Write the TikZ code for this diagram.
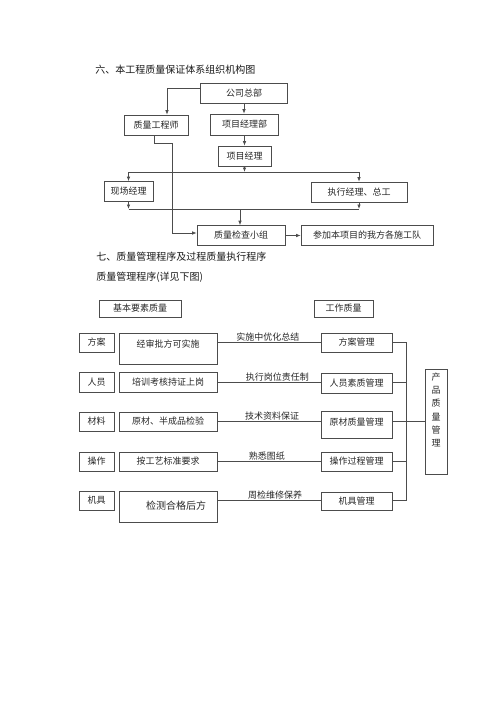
\documentclass[tikz,border=0pt]{standalone}
\usepackage{fontspec}
\setmainfont{Noto Sans CJK SC}
\usetikzlibrary{arrows.meta}

\begin{document}
\begin{tikzpicture}[x=1pt, y=-1pt, line width=0.7pt, black!70,
  >={Latex[length=4.5pt,width=3.5pt]},
  box/.style={draw, inner sep=0pt, text=black!85, font=\fontsize{9}{11}\selectfont},
  lbl/.style={above, inner sep=0.6pt, text=black!85, font=\fontsize{9}{11}\selectfont},
  head/.style={anchor=west, inner sep=0pt, text=black!90, font=\fontsize{10}{12}\selectfont}]
  \useasboundingbox (0,0) rectangle (500,707);

  \node[head] (title1) at (95,70) {六、本工程质量保证体系组织机构图};
  \node[box, minimum width=87pt, minimum height=20pt] (hq) at (244,93) {公司总部};
  \node[box, minimum width=64pt, minimum height=20pt] (qe) at (156,125) {质量工程师};
  \node[box, minimum width=68pt, minimum height=21pt] (pmd) at (244.5,124.5) {项目经理部};
  \node[box, minimum width=53pt, minimum height=20pt] (pm) at (244.5,156) {项目经理};
  \node[box, minimum width=49pt, minimum height=20pt] (site) at (128.5,191.5) {现场经理};
  \node[box, minimum width=96pt, minimum height=20pt] (exec) at (359,192) {执行经理、总工};
  \node[box, minimum width=88pt, minimum height=20pt] (check) at (241,235.5) {质量检查小组};
  \node[box, minimum width=132pt, minimum height=20pt] (team) at (367,235.5) {参加本项目的我方各施工队};

  \coordinate (busA) at (244.5,172);
  \coordinate (busB) at (240,209);
  \coordinate (qeBend) at (172,143);

  \draw[->] ([yshift=5pt]hq.west) -| ([xshift=11pt]qe.north);
  \draw[->] (hq.south) -- (hq.south |- pmd.north);
  \draw[->] (pmd.south) -- (pmd.south |- pm.north);
  \draw[->] (pm.south) -- (busA);
  \draw[->] (busA) -| (site.north);
  \draw[->] (busA) -| (exec.north);
  \draw[->] (site.south) -- (site.south |- busB);
  \draw[->] (exec.south) -- (exec.south |- busB);
  \draw (site.south |- busB) -- (exec.south |- busB);
  \draw[->] (busB) -- (busB |- check.north);
  \draw[->] ([xshift=-2pt]qe.south) |- (qeBend) |- ([yshift=2.5pt]check.west);
  \draw[->] (check.east) -- (team.west);

  \node[head] (title2) at (96,257) {七、质量管理程序及过程质量执行程序};
  \node[head] (title3) at (96,277) {质量管理程序(详见下图)};
  \node[box, minimum width=82pt, minimum height=17pt] (basic) at (140,308.5) {基本要素质量};
  \node[box, minimum width=59pt, minimum height=17pt] (work) at (343.5,308.5) {工作质量};

  \node[box, minimum width=35pt, minimum height=19pt] (a1) at (96.5,342.5) {方案};
  \node[box, minimum width=98pt, text height=14.4pt, text depth=16.6pt, anchor=base] (b1) at (168,347.4) {经审批方可实施};
  \node[box, minimum width=71pt, minimum height=19pt] (c1) at (356.5,342.5) {方案管理};

  \node[box, minimum width=35pt, minimum height=20pt] (a2) at (96.5,382) {人员};
  \node[box, minimum width=98pt, minimum height=20pt] (b2) at (168,382) {培训考核持证上岗};
  \node[box, minimum width=71pt, minimum height=20pt] (c2) at (356.5,383) {人员素质管理};

  \node[box, minimum width=35pt, minimum height=19pt] (a3) at (96.5,421.5) {材料};
  \node[box, minimum width=98pt, minimum height=19pt] (b3) at (168,421.5) {原材、半成品检验};
  \node[box, minimum width=71pt, text height=14.4pt, text depth=12.6pt, anchor=base] (c3) at (356.5,425.4) {原材质量管理};

  \node[box, minimum width=35pt, minimum height=19pt] (a4) at (96.5,461.5) {操作};
  \node[box, minimum width=98pt, minimum height=19pt] (b4) at (168,461.5) {按工艺标准要求};
  \node[box, minimum width=71pt, minimum height=19pt] (c4) at (356.5,461.5) {操作过程管理};

  \node[box, minimum width=35pt, minimum height=19pt] (a5) at (96.5,500.5) {机具};
  \node[box, minimum width=98pt, text height=18.8pt, text depth=12.2pt, anchor=base, font=\fontsize{10}{12}\selectfont] (b5) at (168,509.8) {\hspace*{16pt}检测合格后方};
  \node[box, minimum width=71pt, minimum height=18pt] (c5) at (356.5,501) {机具管理};

  \node[box, minimum width=22pt, align=center, anchor=base, text height=77.4pt, text depth=27.6pt, font=\fontsize{9}{13.2}\selectfont] (prod) at (436,446.4) {产\\品\\质\\量\\管\\理};

  \draw (b1.east |- a1) -- (c1.west |- a1) node[lbl, pos=0.49] {实施中优化总结};
  \draw (b2.east |- a2) -- (c2.west |- a2) node[lbl, pos=0.58] {执行岗位责任制};
  \draw (b3.east |- a3) -- (c3.west |- a3) node[lbl, pos=0.53] {技术资料保证};
  \draw (b4.east |- a4) -- (c4.west |- a4) node[lbl, pos=0.48] {熟悉图纸};
  \draw (b5.east |- a5) -- (c5.west |- a5) node[lbl, pos=0.56] {周检维修保养};

  \coordinate (trunk) at (406,0);
  \draw (c1.east |- a1) -- (trunk |- a1) -- (trunk |- a5) -- (c5.east |- a5);
  \draw (c2.east |- a2) -- (trunk |- a2);
  \draw (c3.east |- a3) -- (prod.west |- a3);
  \draw (c4.east |- a4) -- (trunk |- a4);
\end{tikzpicture}
\end{document}
